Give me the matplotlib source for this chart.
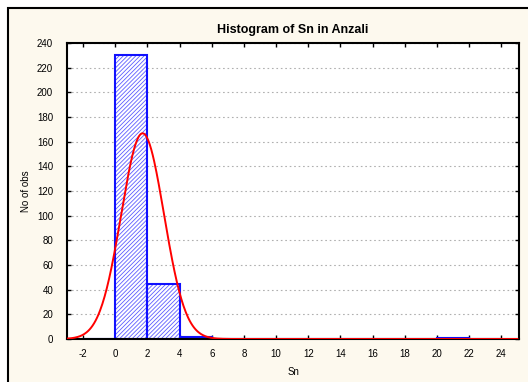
import numpy as np
import matplotlib.pyplot as plt
from matplotlib.patches import Rectangle

plt.rcParams['font.family'] = ['Liberation Sans', 'DejaVu Sans']
plt.rcParams['hatch.linewidth'] = 0.6
plt.rcParams['axes.unicode_minus'] = False

# histogram bins (left edges) and counts
bin_left = [-2, 0, 2, 4, 6, 8, 10, 12, 14, 16, 18, 20, 22]
counts = [0, 230, 45, 2, 0, 0, 0, 0, 0, 0, 0, 1, 0]
bin_width = 2

# fitted normal curve
fit_mean = 1.7
fit_sd = 1.33
n_obs = sum(counts)

fig = plt.figure(figsize=(5.28, 3.82), dpi=100)
fig.patch.set_facecolor('white')
# cream panel with black frame
fig.patches.append(Rectangle((8 / 528, -0.5), 1.5, 1.5 - 8 / 382,
                             transform=fig.transFigure, facecolor='#fdf9ee',
                             edgecolor='black', linewidth=1.5, zorder=-1))

ax = fig.add_axes([67 / 528, 43 / 382, 452 / 528, 296 / 382])
ax.set_facecolor('white')

# hatch fill (lighter), then the outline on top
ax.bar(bin_left, counts, width=bin_width, align='edge', facecolor='white',
       edgecolor='#5c5cff', hatch='////////', linewidth=0, zorder=2)
ax.bar(bin_left, counts, width=bin_width, align='edge', fill=False,
       edgecolor='#1010ff', linewidth=1.5, zorder=2)

xs = np.linspace(-3, 25, 600)
ys = n_obs * bin_width * np.exp(-0.5 * ((xs - fit_mean) / fit_sd) ** 2) / (fit_sd * np.sqrt(2 * np.pi))
ax.plot(xs, ys, color='red', linewidth=1.4, zorder=3)

ax.set_xlim(-3, 25.1)
ax.set_ylim(0, 240)
ax.set_xticks(range(-2, 25, 2))
ax.set_yticks(range(0, 241, 20))
ax.yaxis.grid(True, linestyle=(0, (1.5, 2.5)), color='#b0b0b0', linewidth=0.8)
ax.set_axisbelow(True)
ax.tick_params(direction='in', length=3, width=1, labelsize=7,
               top=True, right=True)
ax.tick_params(axis='x', pad=7)
ax.tick_params(axis='y', pad=10)
for s in ax.spines.values():
    s.set_linewidth(1.5)

ax.set_title('Histogram of Sn in Anzali', fontsize=9, fontweight='bold', pad=7.5)
ax.set_xlabel('Sn', fontsize=7, labelpad=6)
ax.set_ylabel('No of obs', fontsize=7, labelpad=4)

fig.savefig('out.png', dpi=100)
